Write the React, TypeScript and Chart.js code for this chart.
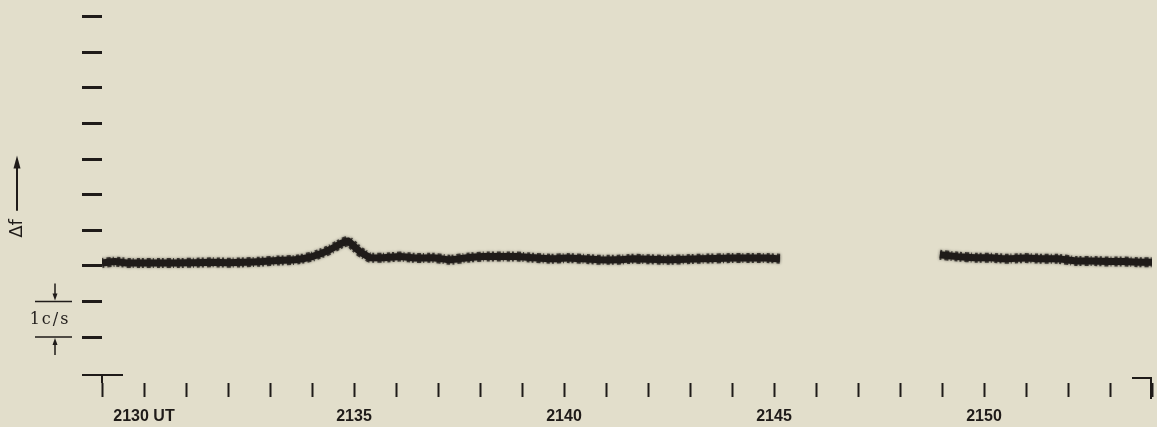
import { useEffect, useRef } from "react";
import { Chart, registerables } from "chart.js";

Chart.register(...registerables);

// Time in minutes (UT, 2129 = 21h29m) and the frequency offset in c/s.
const minutes = [
  2129.0, 2129.31, 2129.62, 2130.02, 2130.43, 2130.81, 2131.21, 2131.62, 2132.0,
  2132.4, 2132.81, 2133.19, 2133.6, 2134.0, 2134.38, 2134.71, 2134.86, 2135.0,
  2135.14, 2135.38, 2135.69, 2136.1, 2136.5, 2136.88, 2137.29, 2137.69, 2138.07,
  2138.48, 2138.88, 2139.26, 2139.67, 2140.07, 2140.45, 2140.86, 2141.26, 2141.64,
  2142.45, 2143.24, 2144.02, 2144.83, 2145.14,
  2147.0,
  2148.95, 2149.38, 2149.79, 2150.19, 2150.5, 2150.98, 2151.38, 2151.76, 2152.17,
  2152.57, 2152.95, 2153.36, 2153.76, 2154.0,
];
const deltaF: (number | null)[] = [
  0.08, 0.12, 0.08, 0.08, 0.08, 0.08, 0.09, 0.1, 0.09,
  0.1, 0.12, 0.15, 0.17, 0.26, 0.43, 0.64, 0.7, 0.55,
  0.4, 0.23, 0.23, 0.26, 0.22, 0.23, 0.17, 0.23, 0.26,
  0.26, 0.26, 0.23, 0.2, 0.22, 0.2, 0.17, 0.17, 0.2,
  0.17, 0.2, 0.22, 0.22, 0.2,
  null,
  0.31, 0.26, 0.23, 0.23, 0.2, 0.22, 0.2, 0.2, 0.14,
  0.14, 0.12, 0.12, 0.1, 0.1,
];

// Minute marks along the time axis and the ones that carry a label.
const minuteTicks = [
  2129, 2130, 2131, 2132, 2133, 2134, 2135, 2136, 2137, 2138, 2139, 2140, 2141,
  2142, 2143, 2144, 2145, 2146, 2147, 2148, 2149, 2150, 2151, 2152, 2153, 2154,
];
const labelledMinutes = [2130, 2135, 2140, 2145, 2150];
const minuteLabels = ["2130 UT", "2135", "2140", "2145", "2150"];

// Frequency graduations, one per c/s.
const freqTicks = [-2, -1, 0, 1, 2, 3, 4, 5, 6, 7];

const PAPER = "#e2decb";
const INK = "#1f1b19";

function arrowHead(ctx: CanvasRenderingContext2D, x: number, y: number, dir: number, len: number, half: number) {
  // dir = -1 points up, +1 points down
  ctx.beginPath();
  ctx.moveTo(x, y);
  ctx.lineTo(x - half, y - dir * len);
  ctx.lineTo(x + half, y - dir * len);
  ctx.closePath();
  ctx.fill();
}

const paperAndNotes = {
  id: "paperAndNotes",
  beforeDraw(chart: Chart) {
    const { ctx, width, height } = chart;
    ctx.save();
    ctx.fillStyle = PAPER;
    ctx.fillRect(0, 0, width, height);
    ctx.restore();
  },
  beforeDatasetsDraw(chart: Chart) {
    chart.ctx.save();
    chart.ctx.shadowColor = "rgba(30,25,22,0.5)";
    chart.ctx.shadowBlur = 3;
  },
  afterDatasetsDraw(chart: Chart) {
    chart.ctx.restore();
  },
  afterDraw(chart: Chart) {
    const { ctx, chartArea } = chart;
    const x = chart.scales.x;
    const y = chart.scales.y;
    ctx.save();
    ctx.strokeStyle = INK;
    ctx.fillStyle = INK;
    ctx.lineCap = "butt";

    // end brackets of the time scale
    const xs = x.getPixelForValue(minuteTicks[0]);
    const xe = x.getPixelForValue(minuteTicks[minuteTicks.length - 1]);
    const b = chartArea.bottom;
    ctx.lineWidth = 2;
    ctx.beginPath();
    ctx.moveTo(xs - 20, b - 8);
    ctx.lineTo(xs + 21, b - 8);
    ctx.moveTo(xs, b - 8);
    ctx.lineTo(xs, b);
    ctx.moveTo(xe - 20, b - 5);
    ctx.lineTo(xe - 1, b - 5);
    ctx.lineTo(xe - 1, b + 16);
    ctx.stroke();

    // Δf label with its arrow
    const fx = 17;
    ctx.save();
    ctx.translate(fx, y.getPixelForValue(1.05));
    ctx.rotate(-Math.PI / 2);
    ctx.font = "18px 'DejaVu Sans'";
    ctx.textAlign = "center";
    ctx.textBaseline = "middle";
    ctx.fillText("Δf", 0, 0);
    ctx.restore();
    ctx.lineWidth = 2;
    const a0 = y.getPixelForValue(1.55);
    const a1 = y.getPixelForValue(3.1);
    ctx.beginPath();
    ctx.moveTo(fx, a0);
    ctx.lineTo(fx, a1 + 10);
    ctx.stroke();
    arrowHead(ctx, fx, a1, -1, 13, 3.5);

    // 1 c/s scale bracket
    const yA = y.getPixelForValue(-1);
    const yB = y.getPixelForValue(-2);
    const bx = 55;
    ctx.lineWidth = 1.5;
    ctx.beginPath();
    ctx.moveTo(35, yA);
    ctx.lineTo(72, yA);
    ctx.moveTo(35, yB);
    ctx.lineTo(72, yB);
    ctx.moveTo(bx, yA - 18);
    ctx.lineTo(bx, yA - 6);
    ctx.moveTo(bx, yB + 18);
    ctx.lineTo(bx, yB + 6);
    ctx.stroke();
    arrowHead(ctx, bx, yA - 1, 1, 7, 2.5);
    arrowHead(ctx, bx, yB + 1, -1, 7, 2.5);
    ctx.font = "16px 'DejaVu Serif'";
    (ctx as any).letterSpacing = "2px";
    ctx.textAlign = "center";
    ctx.textBaseline = "middle";
    ctx.fillText("1c/s", 50, (yA + yB) / 2 + 1);
    ctx.restore();
  },
};

export default function App() {
  const canvasRef = useRef<HTMLCanvasElement | null>(null);

  useEffect(() => {
    document.body.style.margin = "0";
    document.body.style.background = PAPER;
    const canvas = canvasRef.current;
    if (!canvas) return;

    const points = minutes.map((m, i) => ({ x: m, y: deltaF[i] }));

    const chart = new Chart(canvas, {
      type: "line",
      data: {
        datasets: [
          {
            // solid core of the pen trace
            data: points as any,
            borderColor: INK,
            borderWidth: 7,
            pointRadius: 0,
            tension: 0.1,
            spanGaps: false,
            borderJoinStyle: "round",
            borderCapStyle: "butt",
          },
          {
            // ragged fringe of the same trace
            data: points as any,
            borderColor: "rgba(31,27,25,0.8)",
            borderWidth: 10,
            borderDash: [2, 3, 4, 2, 1, 3, 3, 2],
            pointRadius: 0,
            tension: 0.1,
            spanGaps: false,
            borderCapStyle: "butt",
          },
        ],
      },
      options: {
        responsive: false,
        animation: false,
        events: [],
        layout: { padding: { left: 82, right: 5, top: 6, bottom: 0 } },
        plugins: { legend: { display: false }, tooltip: { enabled: false } },
        scales: {
          x: {
            type: "linear",
            min: 2129,
            max: 2154,
            afterBuildTicks: (scale: any) => {
              scale.ticks = minuteTicks.map((v) => ({ value: v }));
            },
            afterFit: (scale: any) => {
              scale.height = 44;
            },
            border: { display: false },
            grid: {
              drawOnChartArea: false,
              drawTicks: true,
              tickLength: 14,
              tickColor: INK,
              tickWidth: 2,
            },
            ticks: {
              autoSkip: false,
              maxRotation: 0,
              padding: 3,
              color: INK,
              font: { family: "'Liberation Sans', Arial, sans-serif", size: 16, weight: "bold", lineHeight: 2.1 },
              callback: (v: any) => {
                const k = labelledMinutes.indexOf(Number(v));
                return k >= 0 ? minuteLabels[k] : "";
              },
            },
          },
          y: {
            type: "linear",
            min: -3.29,
            max: 7.3,
            afterBuildTicks: (scale: any) => {
              scale.ticks = freqTicks.map((v) => ({ value: v }));
            },
            border: { display: false },
            grid: {
              drawOnChartArea: false,
              drawTicks: true,
              tickLength: 20,
              tickColor: INK,
              tickWidth: 3,
            },
            ticks: { display: false },
          },
        },
      },
      plugins: [paperAndNotes],
    });

    return () => chart.destroy();
  }, []);

  return <canvas ref={canvasRef} width={1157} height={427} style={{ display: "block" }} />;
}
